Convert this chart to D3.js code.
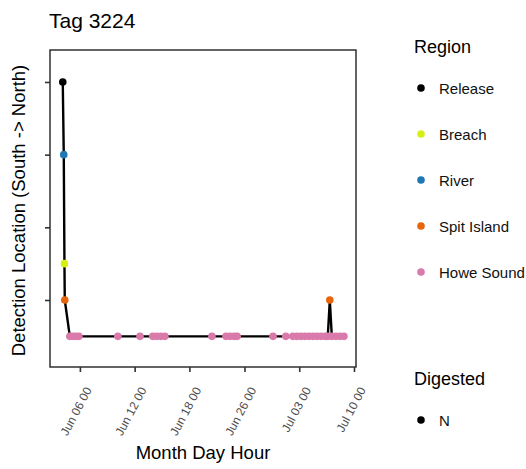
<!DOCTYPE html>
<html>
<head>
<meta charset="utf-8">
<script src="https://cdn.jsdelivr.net/npm/d3@7"></script>
<style>
  body { margin: 0; background: #fff; }
  svg { font-family: "Liberation Sans", Arial, Helvetica, sans-serif; }
</style>
</head>
<body>
<svg id="chart" width="526" height="469"></svg>
<script>
// ---- Data ----
const title = "Tag 3224";
const regions = ["Release", "Breach", "River", "Spit Island", "Howe Sound"];
const regionColors = ["#000000", "#d8ef14", "#1f78b4", "#e8650c", "#d97aab"];
const regionLevels = [4, 1.5, 3, 1, 0.5];   // south -> north position
const yTickValues = [1, 2, 3, 4];
const digestedLevels = ["N"];

// detections: time string (month-day hour) and region
const detTimes = [
  "06-03 21", "06-04 00", "06-04 02", "06-04 03",
  "06-04 18", "06-05 03", "06-05 12", "06-05 21",
  "06-10 17", "06-13 11", "06-15 01", "06-15 13", "06-16 01", "06-16 13",
  "06-22 09", "06-24 03", "06-24 15", "06-25 03", "06-25 12",
  "06-29 23", "07-01 13", "07-02 10", "07-02 22", "07-03 10", "07-03 22",
  "07-04 10", "07-04 22", "07-05 10", "07-05 22", "07-06 10", "07-06 18",
  "07-07 00", "07-07 06", "07-07 18", "07-08 06", "07-08 18"
];
const detRegions = [
  "Release", "River", "Breach", "Spit Island",
  "Howe Sound", "Howe Sound", "Howe Sound", "Howe Sound",
  "Howe Sound", "Howe Sound", "Howe Sound", "Howe Sound", "Howe Sound", "Howe Sound",
  "Howe Sound", "Howe Sound", "Howe Sound", "Howe Sound", "Howe Sound",
  "Howe Sound", "Howe Sound", "Howe Sound", "Howe Sound", "Howe Sound", "Howe Sound",
  "Howe Sound", "Howe Sound", "Howe Sound", "Howe Sound", "Howe Sound", "Howe Sound",
  "Spit Island", "Howe Sound", "Howe Sound", "Howe Sound", "Howe Sound"
];

// x-axis break positions and their labels
const xTickTimes = ["06-06 00", "06-12 19", "06-19 14", "06-26 10", "07-03 05", "07-10 00"];
const xTickLabels = ["Jun 06 00", "Jun 12 00", "Jun 18 00", "Jun 26 00", "Jul 03 00", "Jul 10 00"];
const xDomain = ["06-02 07", "07-10 06"];
const yDomain = [0.078, 4.44];

// ---- Drawing ----
const parse = d3.timeParse("%Y-%m-%d %H");
const p = s => parse("2021-" + s);

const svg = d3.select("#chart");
const panel = { left: 50, top: 50, right: 356, bottom: 367 };

const x = d3.scaleTime().domain(xDomain.map(p)).range([panel.left, panel.right]);
const y = d3.scaleLinear().domain(yDomain).range([panel.bottom, panel.top]);
const color = d3.scaleOrdinal().domain(regions).range(regionColors);
const level = d3.scaleOrdinal().domain(regions).range(regionLevels);

const data = detTimes.map((t, i) => ({ t: p(t), r: detRegions[i] }));

// Title
svg.append("text").attr("x", 49).attr("y", 28)
  .attr("font-size", 21).attr("fill", "#000").text(title);

// Line
svg.append("path").datum(data)
  .attr("fill", "none").attr("stroke", "#000").attr("stroke-width", 2.4)
  .attr("stroke-linejoin", "round")
  .attr("d", d3.line().x(d => x(d.t)).y(d => y(level(d.r))));

// Points
svg.append("g").selectAll("circle").data(data).join("circle")
  .attr("cx", d => x(d.t)).attr("cy", d => y(level(d.r)))
  .attr("r", 3.8).attr("fill", d => color(d.r));

// Panel border
svg.append("rect")
  .attr("x", panel.left).attr("y", panel.top)
  .attr("width", panel.right - panel.left).attr("height", panel.bottom - panel.top)
  .attr("fill", "none").attr("stroke", "#222").attr("stroke-width", 1.4);

// Y axis (ticks only, no labels)
const yAxis = svg.append("g").attr("transform", `translate(${panel.left},0)`)
  .call(d3.axisLeft(y).tickValues(yTickValues).tickSize(5).tickFormat(""));
yAxis.select(".domain").remove();
yAxis.selectAll("line").attr("stroke", "#333").attr("stroke-width", 1.6);

// X axis
const xAxis = svg.append("g").attr("transform", `translate(0,${panel.bottom})`)
  .call(d3.axisBottom(x).tickValues(xTickTimes.map(p)).tickSize(5)
    .tickFormat((d, i) => xTickLabels[i]));
xAxis.select(".domain").remove();
xAxis.selectAll("line").attr("stroke", "#333").attr("stroke-width", 1.6);
xAxis.selectAll("text")
  .attr("font-family", "'Liberation Sans', Arial, sans-serif")
  .attr("font-size", 12).attr("fill", "#4d4d4d")
  .attr("text-anchor", "end")
  .attr("dy", "0.35em").attr("y", 0)
  .attr("transform", "translate(8,21) rotate(-62)");

// Axis titles
svg.append("text").attr("x", (panel.left + panel.right) / 2).attr("y", 459)
  .attr("text-anchor", "middle").attr("font-size", 18.5).text("Month Day Hour");
svg.append("text")
  .attr("transform", `translate(25,${(panel.top + panel.bottom) / 2 + 2}) rotate(-90)`)
  .attr("text-anchor", "middle").attr("font-size", 18.5)
  .text("Detection Location (South -> North)");

// Legend: Region
const lg = svg.append("g").attr("transform", "translate(413,0)");
lg.append("text").attr("x", 1).attr("y", 53).attr("font-size", 18).text("Region");
const items = lg.selectAll("g.item").data(regions).join("g")
  .attr("class", "item")
  .attr("transform", (d, i) => `translate(0,${88 + i * 46})`);
items.append("circle").attr("cx", 8).attr("cy", 0).attr("r", 3.8)
  .attr("fill", d => color(d));
items.append("text").attr("x", 26).attr("y", 5.5).attr("font-size", 15)
  .attr("fill", "#111").text(d => d);

// Legend: Digested
const lg2 = svg.append("g").attr("transform", "translate(413,0)");
lg2.append("text").attr("x", 1).attr("y", 385).attr("font-size", 18).text("Digested");
const items2 = lg2.selectAll("g.item").data(digestedLevels).join("g")
  .attr("class", "item")
  .attr("transform", (d, i) => `translate(0,${420 + i * 46})`);
items2.append("circle").attr("cx", 8).attr("cy", 0).attr("r", 3.8).attr("fill", "#000");
items2.append("text").attr("x", 26).attr("y", 5.5).attr("font-size", 15)
  .attr("fill", "#111").text(d => d);
</script>
</body>
</html>
